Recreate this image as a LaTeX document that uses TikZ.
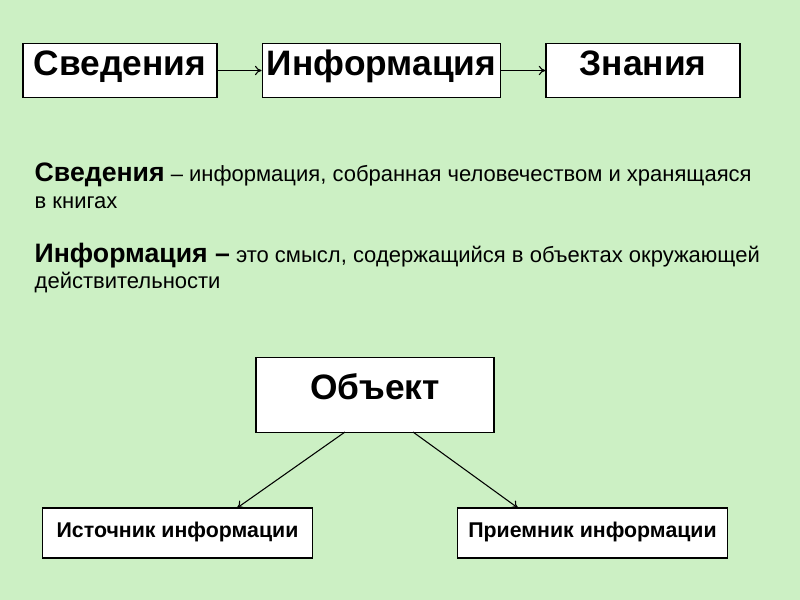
\documentclass[tikz,border=0pt]{standalone}
\usepackage{fontspec}
\setmainfont{Liberation Sans}
\usetikzlibrary{arrows.meta}
\definecolor{bg}{RGB}{204,240,196}
\begin{document}
\begin{tikzpicture}[x=0.75pt,y=-0.75pt,
 box/.style={draw,fill=white,line width=0.8pt,inner sep=0pt},
 lbl/.style={anchor=mid,inner sep=0pt,yshift=-0.1em},
 big/.style={font=\bfseries\fontsize{26.5}{30}\selectfont},
 small/.style={font=\bfseries\fontsize{16}{20}\selectfont},
 arr/.style={-{To[length=5pt,width=7pt]},line width=0.8pt}]
\fill[bg] (0,0) rectangle (800,600);
\node[box,minimum width=145.5pt,minimum height=41pt] (a) at (120,70.5) {};
\node[big,lbl] (la) at (a.center) {Сведения};
\node[box,minimum width=179pt,minimum height=41pt] (b) at (381.5,70.5) {};
\node[big,lbl] (lb) at (b.center) {Информация};
\node[box,minimum width=145.5pt,minimum height=41pt] (c) at (643,70.5) {};
\node[big,lbl] (lc) at (c.center) {Знания};
\draw[arr] (a.east) -- (b.west);
\draw[arr] (b.east) -- (c.west);
\node[anchor=west,font=\fontsize{16.5}{20}\selectfont,align=left] (t1) at (30,186) {{\bfseries\fontsize{20}{20}\selectfont Сведения} -- информация, собранная человечеством и хранящаяся\\в книгах};
\node[anchor=west,font=\fontsize{16.5}{20}\selectfont,align=left] (t2) at (30,268) {{\bfseries\fontsize{20}{20}\selectfont Информация --} это смысл, содержащийся в объектах окружающей\\действительности};
\node[box,minimum width=178.5pt,minimum height=56pt] (o) at (375,395) {};
\node[big,lbl] (lo) at (o.center) {Объект};
\node[box,minimum width=203pt,minimum height=37.5pt] (s) at (177.5,533) {};
\node[small,lbl] (ls) at (s.center) {Источник информации};
\node[box,minimum width=203pt,minimum height=37.5pt] (r) at (592.5,533) {};
\node[small,lbl] (lr) at (r.center) {Приемник информации};
\coordinate (o1) at (345,432);
\coordinate (o2) at (413,432);
\coordinate (s1) at (237,508);
\coordinate (r1) at (518,508);
\draw[arr] (o1) -- (s1);
\draw[arr] (o2) -- (r1);
\end{tikzpicture}
\end{document}
